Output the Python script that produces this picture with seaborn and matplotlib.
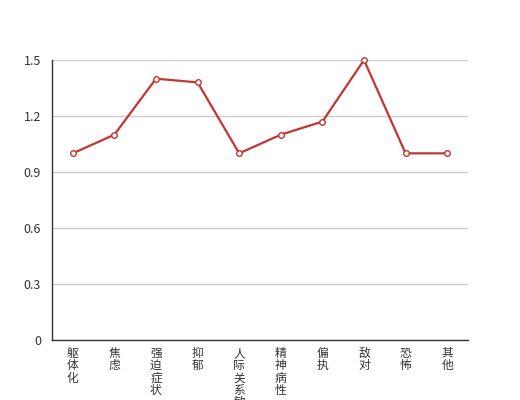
import numpy as np
import pandas as pd
import seaborn as sns
import matplotlib.pyplot as plt
from matplotlib.ticker import FixedLocator, FuncFormatter

factores = ['躯体化', '焦虑', '强迫症状', '抑郁', '人际关系敏感',
            '精神病性', '偏执', '敌对', '恐怖', '其他']
puntajes = [1.0, 1.1, 1.4, 1.38, 1.0, 1.1, 1.17, 1.5, 1.0, 1.0]
ticks_y = [0, 0.3, 0.6, 0.9, 1.2, 1.5]

sns.set_style('white')
plt.rcParams['font.family'] = ['Noto Sans CJK SC', 'DejaVu Sans']

df = pd.DataFrame({'factor': factores, 'puntaje': puntajes})
df['pos'] = np.arange(len(df))

fig = plt.figure(figsize=(5.2, 4.0), dpi=100)
ax = fig.add_axes([52 / 520, 60 / 400, 416 / 520, 280 / 400])

sns.lineplot(data=df, x='pos', y='puntaje', ax=ax, color='#c23531',
             linewidth=1.6, marker='o', markersize=4,
             markerfacecolor='white', markeredgecolor='#c23531',
             markeredgewidth=1, zorder=3, clip_on=False)

ax.set_xlim(-0.5, len(factores) - 0.5)
ax.set_ylim(0, 1.5)
ax.set_yticks(ticks_y)
ax.yaxis.set_major_formatter(FuncFormatter(lambda v, p: '0' if v == 0 else f'{v:.1f}'))
ax.yaxis.grid(True, color='#cccccc', linewidth=1)
ax.set_axisbelow(True)

# ticks at the category borders, labels at the centres
ax.xaxis.set_major_locator(FixedLocator(np.arange(len(factores) + 1) - 0.5))
ax.xaxis.set_major_formatter(FuncFormatter(lambda v, p: ''))
ax.xaxis.set_minor_locator(FixedLocator(df['pos']))
ax.set_xticklabels(['\n'.join(f) for f in factores], minor=True)
ax.tick_params(axis='x', which='major', length=5, width=1, color='#333333',
               direction='out')
ax.tick_params(axis='x', which='minor', length=0, pad=5, labelsize=8.5,
               labelcolor='#333333')
ax.tick_params(axis='y', length=5, width=1, color='#333333', direction='out',
               labelsize=9, labelcolor='#333333', pad=3)
for lbl in ax.get_xticklabels(minor=True):
    lbl.set_linespacing(0.93)
    lbl.set_verticalalignment('top')

for lado in ['top', 'right']:
    ax.spines[lado].set_visible(False)
for lado in ['left', 'bottom']:
    ax.spines[lado].set_color('#333333')
    ax.spines[lado].set_linewidth(1)

ax.set_xlabel('')
ax.set_ylabel('')

fig.savefig('out.png', dpi=100)
